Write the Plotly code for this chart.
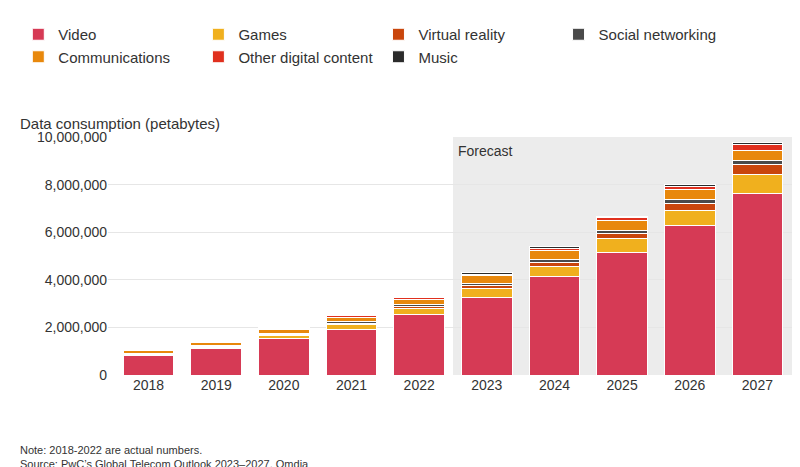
import plotly.graph_objects as go

years = ["2018", "2019", "2020", "2021", "2022", "2023", "2024", "2025", "2026", "2027"]
video = [820000, 1100000, 1550000, 1930000, 2550000, 3270000, 4120000, 5150000, 6300000, 7630000]
games = [50000, 70000, 120000, 200000, 250000, 380000, 450000, 600000, 630000, 780000]
virtual_reality = [10000, 20000, 30000, 50000, 80000, 100000, 150000, 200000, 280000, 450000]
social = [30000, 40000, 50000, 60000, 70000, 100000, 120000, 130000, 150000, 160000]
communications = [100000, 130000, 170000, 190000, 210000, 320000, 380000, 400000, 420000, 400000]
other = [30000, 40000, 50000, 60000, 80000, 70000, 100000, 120000, 160000, 250000]
music = [20000, 30000, 40000, 40000, 50000, 50000, 60000, 60000, 70000, 80000]

SERIES = [
    ("Video", video, "#d63a55"),
    ("Games", games, "#f0b01e"),
    ("Virtual reality", virtual_reality, "#c9460c"),
    ("Social networking", social, "#4a4a4a"),
    ("Communications", communications, "#e8880c"),
    ("Other digital content", other, "#e0301e"),
    ("Music", music, "#2b2b2b"),
]

fig = go.Figure()
for name, vals, color in SERIES:
    fig.add_trace(go.Bar(
        x=years, y=vals, name=name,
        marker=dict(color=color, line=dict(color="white", width=1)),
        width=0.75,
    ))

fig.add_shape(type="rect", xref="x", yref="paper", x0=4.5, x1=9.6, y0=0, y1=1,
              fillcolor="#ececec", line_width=0, layer="below")
fig.add_annotation(text="Forecast", xref="x", yref="paper", x=4.55, y=0.985,
                   xanchor="left", yanchor="top", showarrow=False,
                   font=dict(size=14, color="#333"))
fig.add_annotation(text="Data consumption (petabytes)", xref="paper", yref="paper",
                   x=-0.13, y=1.1, xanchor="left", showarrow=False,
                   font=dict(size=15, color="#333"))
fig.add_annotation(text="Note: 2018-2022 are actual numbers.<br>Source: PwC’s Global Telecom Outlook 2023–2027, Omdia",
                   xref="paper", yref="paper", x=-0.13, y=-0.28, xanchor="left",
                   yanchor="top", align="left", showarrow=False,
                   font=dict(size=11, color="#333"))

fig.update_layout(
    barmode="stack",
    width=800, height=467,
    margin=dict(l=95, r=10, t=122, b=100),
    plot_bgcolor="white", paper_bgcolor="white",
    font=dict(family="Liberation Sans, Arial", color="#333"),
    bargap=0.25,
    legend=dict(orientation="h", x=-0.13, y=1.5, xanchor="left", yanchor="top",
                font=dict(size=15), traceorder="normal", itemwidth=30,
                tracegroupgap=0, entrywidthmode="pixels"),
    xaxis=dict(range=[-0.6, 9.6], showgrid=False, tickfont=dict(size=14)),
    yaxis=dict(range=[0, 10000000], tickvals=[0, 2000000, 4000000, 6000000, 8000000, 10000000],
               tickformat=",d", gridcolor="#e6e6e6", tickfont=dict(size=14), zeroline=False),
)

fig.write_html("out.html")
